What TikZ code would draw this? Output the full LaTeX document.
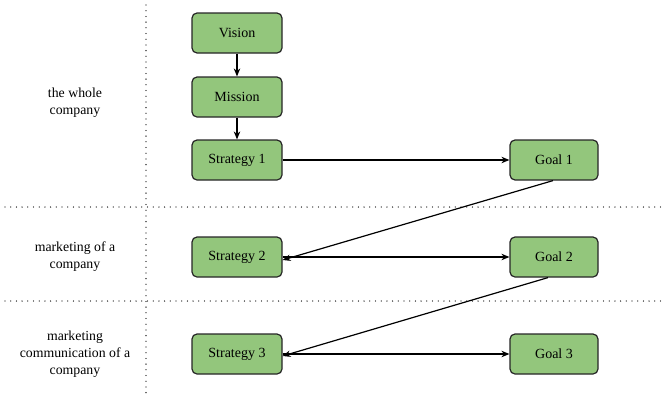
\documentclass[tikz,border=0pt]{standalone}
\usepackage{fontspec}
\setmainfont{Liberation Serif}
\usetikzlibrary{arrows.meta}
\begin{document}
\begin{tikzpicture}[x=1pt,y=-1pt,
  box/.style={draw=black!85, line width=1.2pt, fill=boxgreen, rounded corners=5pt,
    minimum width=90pt, minimum height=40pt, inner sep=0pt, font=\fontsize{14}{16}\selectfont},
  lbl/.style={align=center, font=\fontsize{13.8}{17}\selectfont},
  sep/.style={line width=1.3pt, dash pattern=on 0pt off 5.7pt, line cap=round},
  arr/.style={line width=1.2pt, -{Stealth[length=8pt,width=6.5pt]}}]
\definecolor{boxgreen}{HTML}{93C67C}
\useasboundingbox (0,0) rectangle (662,397);
% separators
\draw[sep] (146,5) -- (146,395);
\draw[sep] (5,207) -- (662,207);
\draw[sep] (5,301) -- (662,301);
% labels
\node[lbl] (l1) at (75,103) {the whole\\company};
\node[lbl] (l2) at (75,257) {marketing of a\\company};
\node[lbl] (l3) at (75,354) {marketing\\communication of a\\company};
% boxes
\node[box] (vision) at (237,33) {Vision};
\node[box] (mission) at (237,97) {Mission};
\node[box] (s1) at (237,160) {Strategy 1};
\node[box, minimum width=88pt] (g1) at (554,160) {Goal 1};
\node[box] (s2) at (237,257) {Strategy 2};
\node[box, minimum width=88pt] (g2) at (554,257) {Goal 2};
\node[box] (s3) at (237,354) {Strategy 3};
\node[box, minimum width=88pt] (g3) at (554,354) {Goal 3};
% arrows
\draw[arr] (vision) -- (mission);
\draw[arr] (mission) -- (s1);
\draw[arr] (s1) -- (g1);
\draw[arr] (g1.south) ++(-1,0) -- ([yshift=-3pt]s2.east);
\draw[arr] (s2) -- (g2);
\draw[arr] (g2.south) ++(-6,0) -- ([yshift=-2pt]s3.east);
\draw[arr] (s3) -- (g3);
\end{tikzpicture}
\end{document}
